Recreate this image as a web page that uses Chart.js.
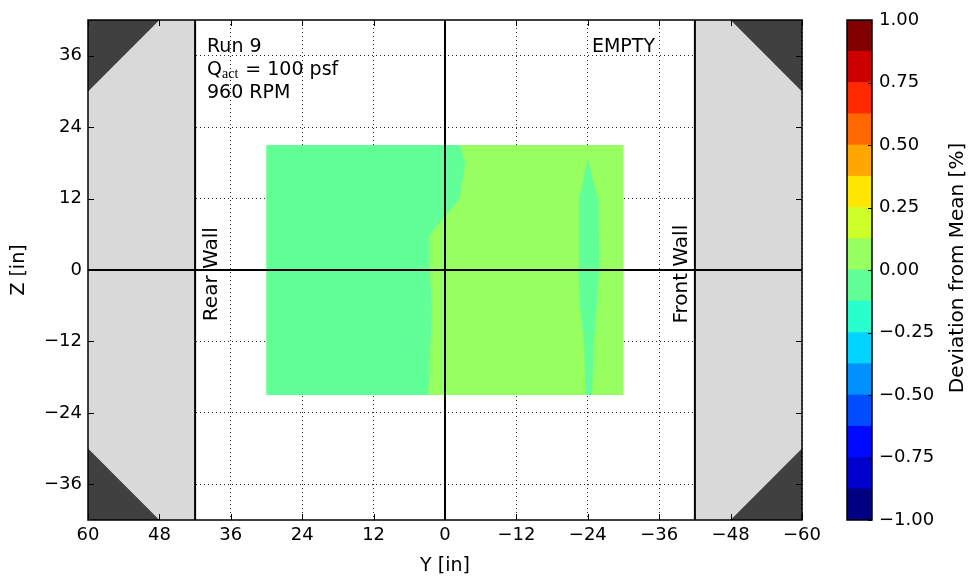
<!DOCTYPE html>
<html>
<head>
<meta charset="utf-8">
<script src="https://cdn.jsdelivr.net/npm/chart.js@4.4.1/dist/chart.umd.min.js"></script>
<style>
  body { margin: 0; background: #fff; }
  #wrap { position: relative; width: 971px; height: 580px; }
  #main { position: absolute; left: 0; top: 0; }
  #cbar { position: absolute; left: 837px; top: 0; }
</style>
</head>
<body>
<div id="wrap">
  <canvas id="main" width="971" height="580"></canvas>
  <canvas id="cbar" width="134" height="580"></canvas>
</div>
<script>
// tick labels
const yTicks = [60, 48, 36, 24, 12, 0, -12, -24, -36, -48, -60];
const zTicks = [-36, -24, -12, 0, 12, 24, 36];
const cbTicks = [-1, -0.75, -0.5, -0.25, 0, 0.25, 0.5, 0.75, 1];

// contour levels and their (jet) colours
const cbLevels = [-1, -0.875, -0.75, -0.625, -0.5, -0.375, -0.25, -0.125, 0,
                  0.125, 0.25, 0.375, 0.5, 0.625, 0.75, 0.875, 1];
const cbColors = ['#000080', '#0000cd', '#0008ff', '#004dff', '#0091ff', '#00d4ff', '#29ffce', '#60ff97',
                  '#97ff60', '#ceff29', '#ffe600', '#ffa700', '#ff6800', '#ff2900', '#cd0000', '#800000'];

// outside the walls, [Y, Z] in inches
const rearZone = [[60, 42], [42, 42], [42, -42], [60, -42]];
const frontZone = [[-42, 42], [-60, 42], [-60, -42], [-42, -42]];
const cornerRearTop = [[60, 42], [48, 42], [60, 30]];
const cornerRearBottom = [[60, -42], [48, -42], [60, -30]];
const cornerFrontTop = [[-60, 42], [-48, 42], [-60, 30]];
const cornerFrontBottom = [[-60, -42], [-48, -42], [-60, -30]];

// measured plane, level 0 .. 0.125 everywhere except the two -0.125 .. 0 patches
const measuredPlane = [[30, 21], [-30, 21], [-30, -21], [30, -21]];
const lowPatchRear = [[30, 21], [-2.5, 21], [-3.4, 17.8], [-2.4, 11.9], [0.3, 8.7], [2.6, 5.9],
                      [2.6, 0], [2.2, -6.3], [2.8, -21], [30, -21]];
const lowPatchFront = [[-24, 18.7], [-25.0, 14.5], [-25.8, 11.9], [-25.9, 0], [-25.5, -6.3],
                       [-25.0, -12.5], [-24.7, -21], [-23.6, -21], [-23.4, -12.5], [-22.7, -6.3],
                       [-22.4, 0], [-22.5, 11.9], [-23.1, 14.5]];

// wall lines and the two axes through zero
const rearWall = [[42, -42], [42, 42]];
const frontWall = [[-42, -42], [-42, 42]];
const zeroY = [[0, -42], [0, 42]];
const zeroZ = [[60, 0], [-60, 0]];

Chart.defaults.font.family = '"DejaVu Sans"';
Chart.defaults.color = '#000';

const toXY = pts => pts.map(([x, y]) => ({ x, y }));
const minus = v => (v < 0 ? '\u2212' : '');

function area(pts, color, order) {
    return {
        data: toXY(pts), showLine: true, fill: 'shape', backgroundColor: color,
        borderColor: 'transparent', borderWidth: 0, pointRadius: 0, order: order
    };
}

function line(pts, order) {
    return {
        data: toXY(pts), showLine: true, fill: false, borderColor: '#000',
        borderWidth: 2, pointRadius: 0, order: order
    };
}

/**
 * Frame, inward ticks and the annotations of the main plot
 */
const framePlugin = {
    id: 'frame',
    afterDraw(chart) {
        const { ctx, chartArea: a, scales: { x, y } } = chart;
        ctx.save();
        ctx.strokeStyle = '#000';
        ctx.lineWidth = 1;
        ctx.beginPath();
        yTicks.forEach(v => {
            const px = Math.round(x.getPixelForValue(v)) + 0.5;
            ctx.moveTo(px, a.bottom); ctx.lineTo(px, a.bottom - 6);
            ctx.moveTo(px, a.top); ctx.lineTo(px, a.top + 6);
        });
        zTicks.forEach(v => {
            const py = Math.round(y.getPixelForValue(v)) + 0.5;
            ctx.moveTo(a.left, py); ctx.lineTo(a.left + 6, py);
            ctx.moveTo(a.right, py); ctx.lineTo(a.right - 6, py);
        });
        ctx.stroke();
        ctx.lineWidth = 1.5;
        ctx.strokeRect(a.left, a.top, a.right - a.left, a.bottom - a.top);

        // text blocks
        ctx.fillStyle = '#000';
        ctx.font = '19px "DejaVu Sans"';
        ctx.textBaseline = 'alphabetic';
        ctx.textAlign = 'left';
        const x0 = x.getPixelForValue(40);
        const b0 = y.getPixelForValue(36.7);
        ctx.fillText('Run 9', x0, b0);
        ctx.fillText('Q', x0, b0 + 23);
        let w = ctx.measureText('Q').width;
        ctx.font = '14px "Liberation Serif"';
        ctx.fillText('act', x0 + w, b0 + 26);
        w += ctx.measureText('act').width + 1;
        ctx.font = '19px "DejaVu Sans"';
        ctx.fillText(' = 100 psf', x0 + w, b0 + 23);
        ctx.fillText('960 RPM', x0, b0 + 46);

        ctx.textAlign = 'center';
        ctx.fillText('EMPTY', x.getPixelForValue(-30), b0);

        ctx.font = '20px "DejaVu Sans"';
        [['Rear Wall', 38.3], ['Front Wall', -40.6]].forEach(([t, yv]) => {
            ctx.save();
            ctx.translate(x.getPixelForValue(yv), y.getPixelForValue(-0.7));
            ctx.rotate(-Math.PI / 2);
            ctx.fillText(t, 0, 0);
            ctx.restore();
        });
        ctx.restore();
    }
};

new Chart(document.getElementById('main'), {
    type: 'scatter',
    data: {
        datasets: [
            line(zeroY, 1),
            line(zeroZ, 1),
            line(rearWall, 1),
            line(frontWall, 1),
            area(lowPatchFront, cbColors[7], 5),
            area(lowPatchRear, cbColors[7], 5),
            area(measuredPlane, cbColors[8], 6),
            area(cornerRearTop, '#404040', 8),
            area(cornerRearBottom, '#404040', 8),
            area(cornerFrontTop, '#404040', 8),
            area(cornerFrontBottom, '#404040', 8),
            area(rearZone, '#d9d9d9', 9),
            area(frontZone, '#d9d9d9', 9)
        ]
    },
    options: {
        responsive: false,
        animation: false,
        events: [],
        layout: { padding: { left: 0, top: 20, right: 169, bottom: 0 } },
        plugins: { legend: { display: false }, tooltip: { enabled: false } },
        scales: {
            x: {
                type: 'linear', min: -60, max: 60, reverse: true, z: 1,
                afterBuildTicks: s => { s.ticks = yTicks.map(v => ({ value: v })); },
                afterFit: s => { s.height = 60; },
                ticks: {
                    callback: v => minus(v) + Math.abs(v), font: { size: 18 },
                    padding: 5, maxRotation: 0, autoSkip: false
                },
                grid: { color: 'rgba(0,0,0,0.85)', lineWidth: 1, drawTicks: false },
                border: { display: false, dash: [1, 3] },
                title: { display: true, text: 'Y [in]', font: { size: 19 }, padding: { top: 0, bottom: 3 } }
            },
            y: {
                type: 'linear', min: -42, max: 42, z: 1,
                afterBuildTicks: s => { s.ticks = zTicks.map(v => ({ value: v })); },
                afterFit: s => { s.width = 88; },
                ticks: { callback: v => minus(v) + Math.abs(v), font: { size: 18 }, padding: 6, autoSkip: false },
                grid: { color: 'rgba(0,0,0,0.85)', lineWidth: 1, drawTicks: false },
                border: { display: false, dash: [1, 3] },
                title: { display: true, text: 'Z [in]', font: { size: 19 }, padding: { top: 8, bottom: 0 } }
            }
        }
    },
    plugins: [framePlugin]
});

/**
 * Colorbar box, ticks and label
 */
const cbPlugin = {
    id: 'cbframe',
    afterDraw(chart) {
        const { ctx, chartArea: a, scales: { y } } = chart;
        ctx.save();
        ctx.strokeStyle = '#000';
        ctx.lineWidth = 1;
        ctx.beginPath();
        cbTicks.forEach(v => {
            const py = Math.round(y.getPixelForValue(v)) + 0.5;
            ctx.moveTo(a.right, py); ctx.lineTo(a.right - 4, py);
        });
        ctx.stroke();
        ctx.lineWidth = 1.5;
        ctx.strokeRect(a.left, a.top, a.right - a.left, a.bottom - a.top);

        ctx.fillStyle = '#000';
        ctx.font = '20px "DejaVu Sans"';
        ctx.textAlign = 'center';
        ctx.textBaseline = 'alphabetic';
        ctx.translate(126, 268);
        ctx.rotate(-Math.PI / 2);
        ctx.fillText('Deviation from Mean [%]', 0, 0);
        ctx.restore();
    }
};

new Chart(document.getElementById('cbar'), {
    type: 'bar',
    data: {
        labels: ['cb'],
        datasets: cbColors.map((c, i) => ({
            data: [[cbLevels[i], cbLevels[i + 1]]], backgroundColor: c, borderWidth: 0,
            grouped: false, barPercentage: 1, categoryPercentage: 1
        }))
    },
    options: {
        responsive: false,
        animation: false,
        events: [],
        layout: { padding: { left: 10, top: 20, right: 0, bottom: 60 } },
        plugins: { legend: { display: false }, tooltip: { enabled: false } },
        scales: {
            x: { display: false },
            y: {
                position: 'right', min: -1, max: 1,
                afterBuildTicks: s => { s.ticks = cbTicks.map(v => ({ value: v })); },
                afterFit: s => { s.width = 99; },
                ticks: { callback: v => minus(v) + Math.abs(v).toFixed(2), font: { size: 18 }, padding: 7, autoSkip: false },
                grid: { display: false, drawTicks: false },
                border: { display: false }
            }
        }
    },
    plugins: [cbPlugin]
});
</script>
</body>
</html>
